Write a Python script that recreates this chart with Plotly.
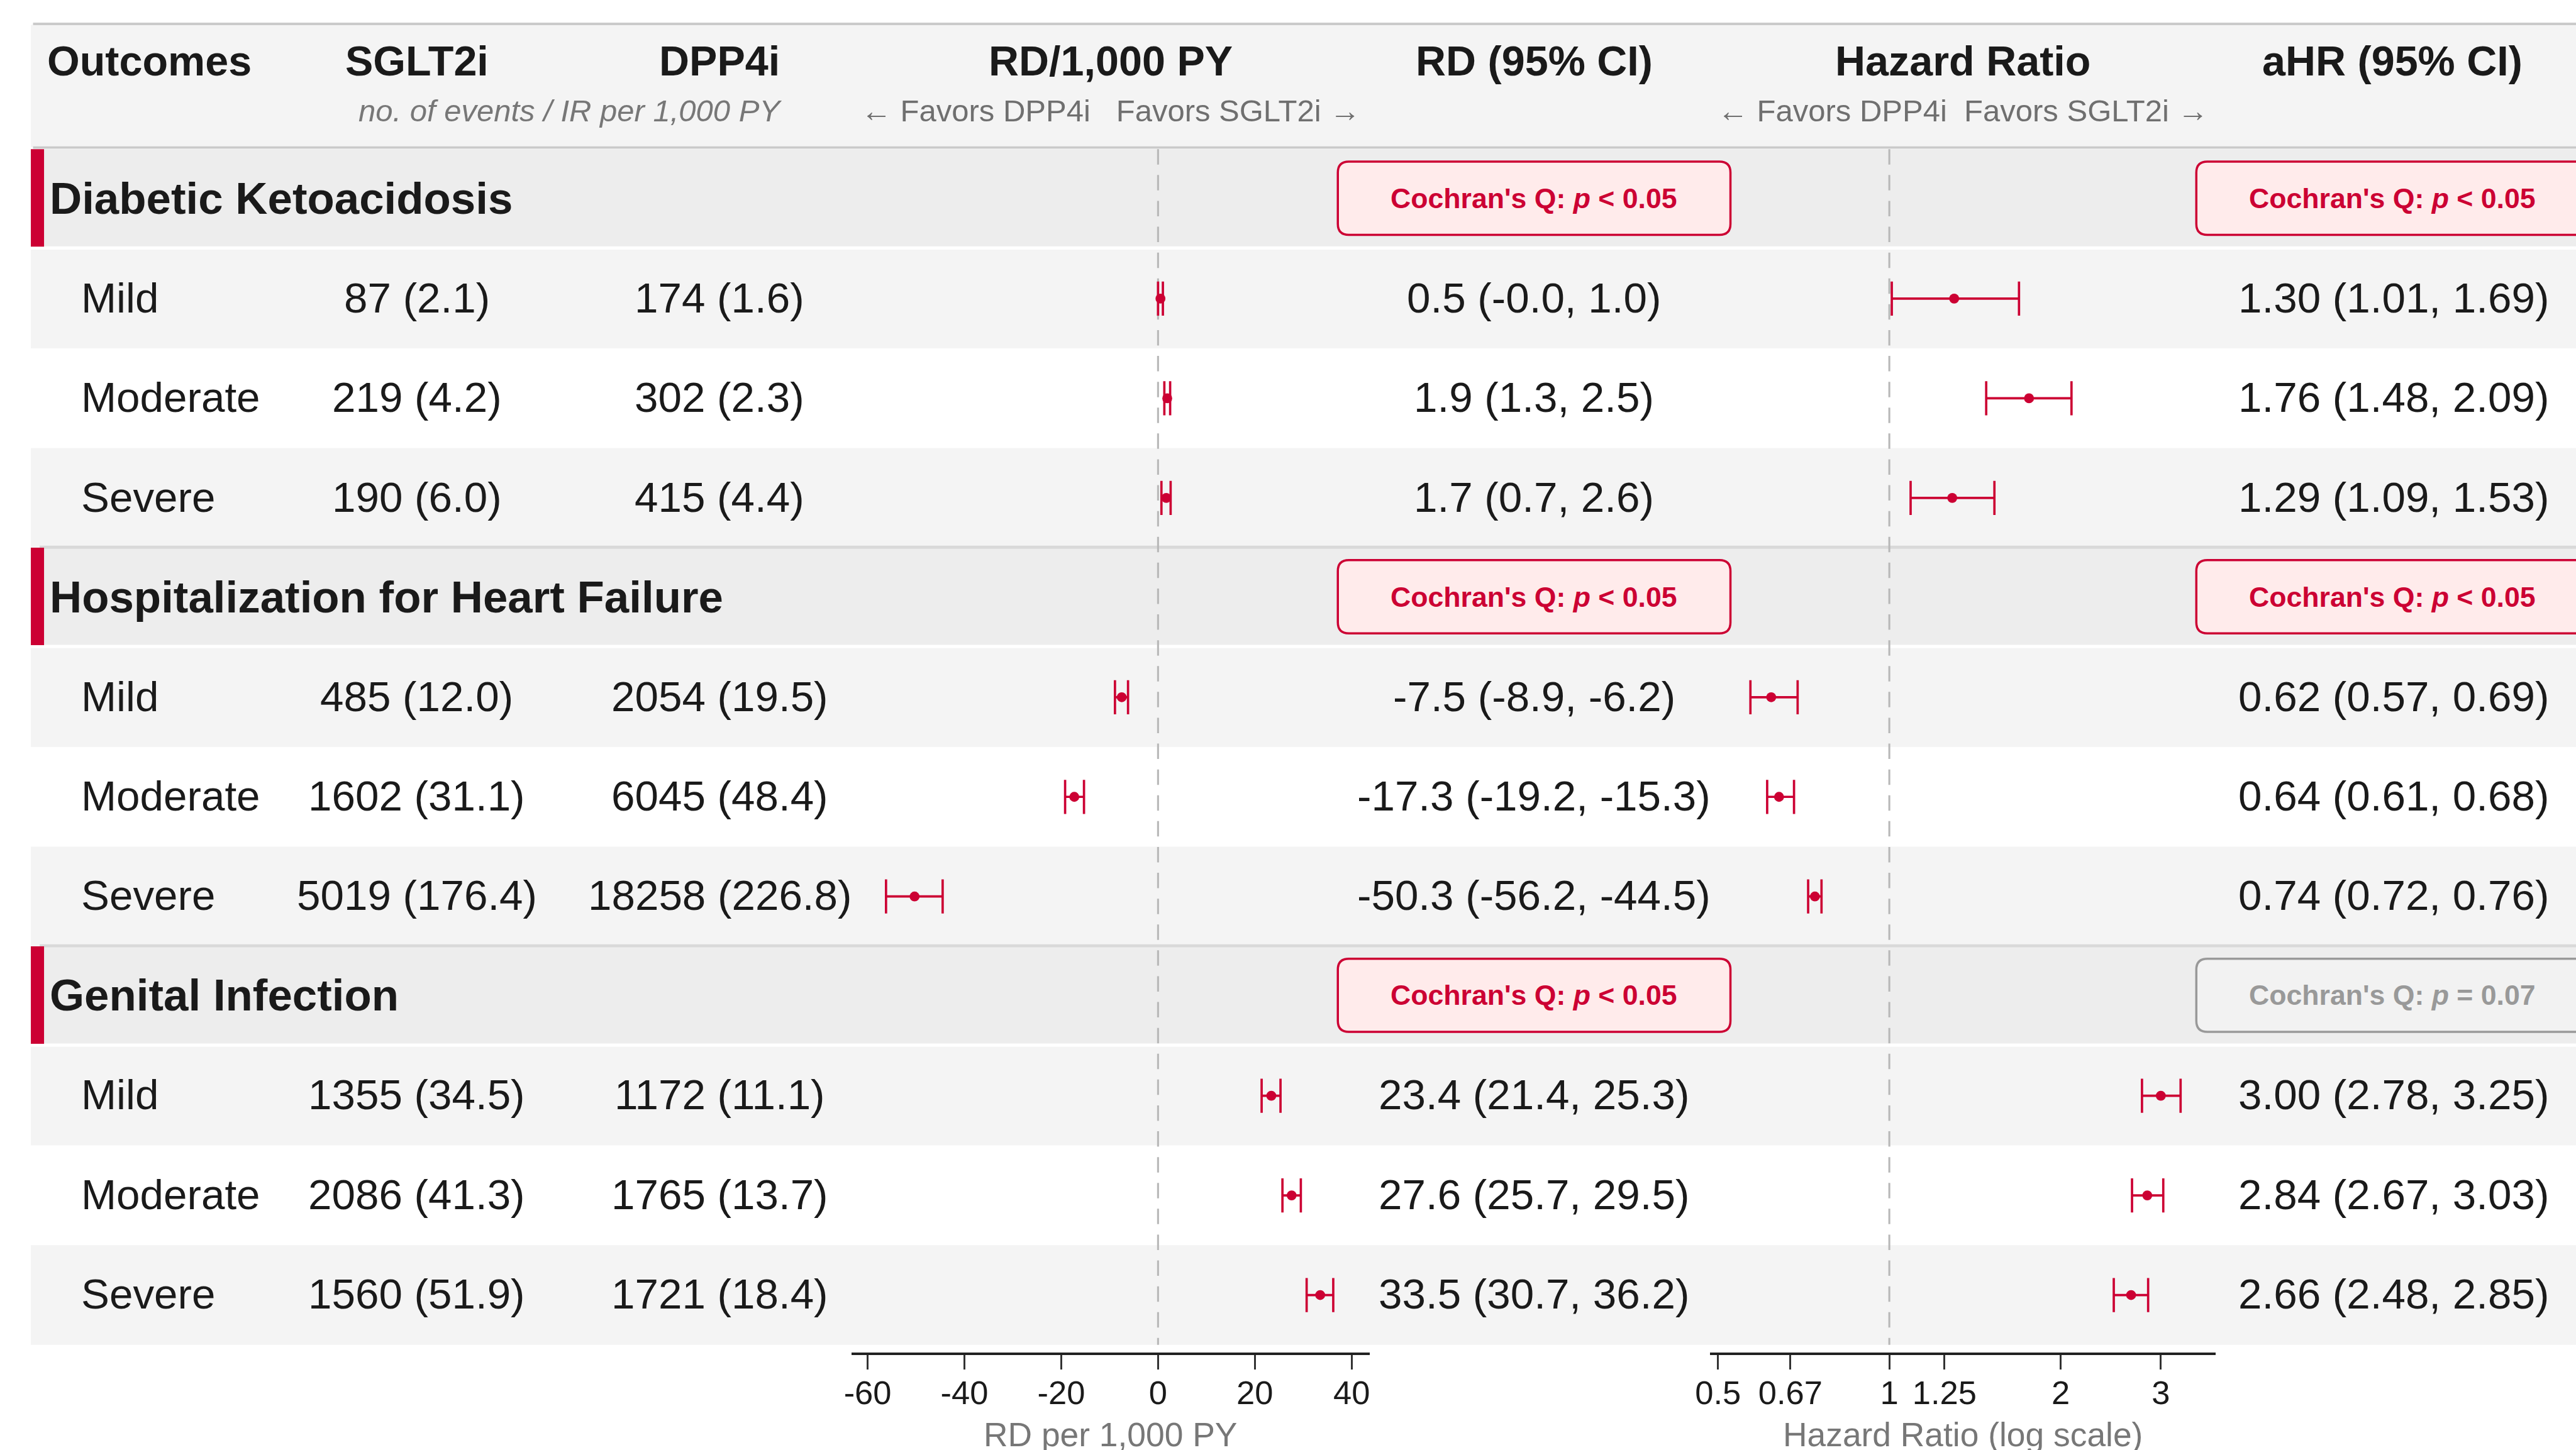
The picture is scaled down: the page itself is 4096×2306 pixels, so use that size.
import plotly.graph_objects as go

# ---------------- data ----------------
groups = ["Diabetic Ketoacidosis", "Hospitalization for Heart Failure", "Genital Infection"]
severities = ["Mild", "Moderate", "Severe"]

sglt2_events = [87, 219, 190, 485, 1602, 5019, 1355, 2086, 1560]
sglt2_ir = [2.1, 4.2, 6.0, 12.0, 31.1, 176.4, 34.5, 41.3, 51.9]
dpp4_events = [174, 302, 415, 2054, 6045, 18258, 1172, 1765, 1721]
dpp4_ir = [1.6, 2.3, 4.4, 19.5, 48.4, 226.8, 11.1, 13.7, 18.4]

rd = [0.5, 1.9, 1.7, -7.5, -17.3, -50.3, 23.4, 27.6, 33.5]
rd_lo = [-0.0, 1.3, 0.7, -8.9, -19.2, -56.2, 21.4, 25.7, 30.7]
rd_hi = [1.0, 2.5, 2.6, -6.2, -15.3, -44.5, 25.3, 29.5, 36.2]

hr = [1.30, 1.76, 1.29, 0.62, 0.64, 0.74, 3.00, 2.84, 2.66]
hr_lo = [1.01, 1.48, 1.09, 0.57, 0.61, 0.72, 2.78, 2.67, 2.48]
hr_hi = [1.69, 2.09, 1.53, 0.69, 0.68, 0.76, 3.25, 3.03, 2.85]

q_rd_text = ["&lt; 0.05", "&lt; 0.05", "&lt; 0.05"]
q_rd_sig = [True, True, True]
q_hr_text = ["&lt; 0.05", "&lt; 0.05", "= 0.07"]
q_hr_sig = [True, True, False]

rd_tickvals = [-60, -40, -20, 0, 20, 40]
rd_ticktext = ["-60", "-40", "-20", "0", "20", "40"]
hr_tickvals = [0.5, 0.67, 1, 1.25, 2, 3]
hr_ticktext = ["0.5", "0.67", "1", "1.25", "2", "3"]

col_titles = ["Outcomes", "SGLT2i", "DPP4i", "RD/1,000 PY", "RD (95% CI)", "Hazard Ratio", "aHR (95% CI)"]
sub_events = "no. of events / IR per 1,000 PY"
sub_rd = "\u2190\u00a0Favors DPP4i\u00a0\u00a0\u00a0Favors SGLT2i\u00a0\u2192"
sub_hr = "\u2190\u00a0Favors DPP4i\u00a0\u00a0Favors SGLT2i\u00a0\u2192"
rd_axis_title = "RD per 1,000 PY"
hr_axis_title = "Hazard Ratio (log scale)"

# ---------------- layout helpers (reference pixel grid) ----------------
REF_W, REF_H = 4678, 2634
S = 0.875
W, H = 4096, 2306
FONT = "Liberation Sans, Arial, Helvetica, sans-serif"
CRIMSON = "#cc0033"
DARK = "#1a1a1a"
GRAY_TXT = "#6f6f6f"

ROW_TOP = 271.0
ROW_H = 181.0


def px(x):
    return x / REF_W


def py(y):
    return 1 - y / REF_H


Y_TOP = (0 - ROW_TOP) / ROW_H - 0.5
Y_BOT = (REF_H - ROW_TOP) / ROW_H - 0.5

X_LEFT = 56
X_OUT = 4700
COL_SGLT2 = 757
COL_DPP4 = 1307
COL_RDTXT = 2786
COL_HRTXT = 4347
RD_DOM = (1546, 2487)
HR_DOM = (3105, 4024)

# rows: group header rows and subrows
row_of_group = []
row_of_item = []
r = 0
for g in range(len(groups)):
    row_of_group.append(r)
    r += 1
    for k in range(len(severities)):
        row_of_item.append(r)
        r += 1
N_ROWS = r

shapes = []
annotations = []


def ann(text, x, y, size, color=DARK, xanchor="center", yref="paper"):
    annotations.append(dict(
        text=text, x=x, y=y, xref="paper", yref=yref, xanchor=xanchor, yanchor="middle",
        showarrow=False, font=dict(family=FONT, size=size, color=color),
        borderpad=0,
    ))


def rr_path(x0, x1, y0, y1, rx, ry):
    return (f"M {x0+rx:.6f},{y0:.6f} L {x1-rx:.6f},{y0:.6f} Q {x1:.6f},{y0:.6f} {x1:.6f},{y0+ry:.6f} "
            f"L {x1:.6f},{y1-ry:.6f} Q {x1:.6f},{y1:.6f} {x1-rx:.6f},{y1:.6f} "
            f"L {x0+rx:.6f},{y1:.6f} Q {x0:.6f},{y1:.6f} {x0:.6f},{y1-ry:.6f} "
            f"L {x0:.6f},{y0+ry:.6f} Q {x0:.6f},{y0:.6f} {x0+rx:.6f},{y0:.6f} Z")


# ---------------- header ----------------
shapes.append(dict(type="rect", xref="paper", yref="paper", x0=px(X_LEFT), x1=px(X_OUT),
                   y0=py(267), y1=py(45), fillcolor="#f4f4f4", line=dict(width=0), layer="below"))
shapes.append(dict(type="line", xref="paper", yref="paper", x0=px(60), x1=px(X_OUT),
                   y0=py(43.5), y1=py(43.5), line=dict(color="#cacaca", width=4.5 * S), layer="below"))
shapes.append(dict(type="line", xref="paper", yref="paper", x0=px(60), x1=px(X_OUT),
                   y0=py(268), y1=py(268), line=dict(color="#cacaca", width=4.5 * S), layer="below"))

HDR_Y = py(110.5)
HDR_FS = 76 * S
ann("<b>" + col_titles[0] + "</b>", px(84), HDR_Y, HDR_FS, xanchor="left")
ann("<b>" + col_titles[1] + "</b>", px(COL_SGLT2), HDR_Y, HDR_FS)
ann("<b>" + col_titles[2] + "</b>", px(COL_DPP4), HDR_Y, HDR_FS)
ann("<b>" + col_titles[3] + "</b>", px(sum(RD_DOM) / 2), HDR_Y, HDR_FS)
ann("<b>" + col_titles[4] + "</b>", px(COL_RDTXT), HDR_Y, HDR_FS)
ann("<b>" + col_titles[5] + "</b>", px(sum(HR_DOM) / 2), HDR_Y, HDR_FS)
ann("<b>" + col_titles[6] + "</b>", px(4345), HDR_Y, HDR_FS)

SUB_Y = py(201)
SUB_FS = 56 * S
ann("<i>" + sub_events + "</i>", px(1035), SUB_Y, SUB_FS, color="#777777")
ann(sub_rd, px(sum(RD_DOM) / 2), SUB_Y, SUB_FS, color=GRAY_TXT)
ann(sub_hr, px(sum(HR_DOM) / 2), SUB_Y, SUB_FS, color=GRAY_TXT)

# ---------------- table rows ----------------
alt_fill = ["#f4f4f4", "#ffffff", "#f4f4f4"]
for g, gr in enumerate(row_of_group):
    shapes.append(dict(type="rect", xref="paper", yref="y", x0=px(X_LEFT), x1=px(X_OUT),
                       y0=gr - 0.5, y1=gr + 0.5, fillcolor="#ededed", line=dict(width=0), layer="below"))
    for k in range(len(severities)):
        rr = gr + 1 + k
        shapes.append(dict(type="rect", xref="paper", yref="y", x0=px(X_LEFT), x1=px(X_OUT),
                           y0=rr - 0.5, y1=rr + 0.5, fillcolor=alt_fill[k], line=dict(width=0), layer="below"))
    # white gap under the group header
    shapes.append(dict(type="line", xref="paper", yref="y", x0=px(X_LEFT), x1=px(X_OUT),
                       y0=gr + 0.5 - 1.5 / ROW_H, y1=gr + 0.5 - 1.5 / ROW_H,
                       line=dict(color="#ffffff", width=6 * S), layer="below"))
    # separator above group header
    if g > 0:
        shapes.append(dict(type="line", xref="paper", yref="y", x0=px(72), x1=px(X_OUT),
                           y0=gr - 0.5 - 1 / ROW_H, y1=gr - 0.5 - 1 / ROW_H,
                           line=dict(color="#d9d9d9", width=5.5 * S), layer="below"))
    # red accent bar
    shapes.append(dict(type="rect", xref="paper", yref="y", x0=px(X_LEFT), x1=px(80),
                       y0=gr - 0.5, y1=gr + 0.5 - 4 / ROW_H, fillcolor=CRIMSON, line=dict(width=0),
                       layer="below"))
    ann("<b>" + groups[g] + "</b>", px(89), gr - 1.5 / ROW_H, 81 * S, xanchor="left", yref="y")

# Cochran's Q boxes
BOX_HW = 356.5
BOX_HH = 66.5
RAD = 20


def cochran_box(cx, row, ptxt, sig):
    x0, x1 = px(cx - BOX_HW), px(cx + BOX_HW)
    y0 = row - 1.5 / ROW_H - BOX_HH / ROW_H
    y1 = row - 1.5 / ROW_H + BOX_HH / ROW_H
    fill = "#ffebeb" if sig else "#f2f2f2"
    edge = CRIMSON if sig else "#999999"
    shapes.append(dict(type="path", xref="paper", yref="y",
                       path=rr_path(x0, x1, y0, y1, RAD / REF_W, RAD / ROW_H),
                       fillcolor=fill, line=dict(color=edge, width=4 * S), layer="below"))
    ann("<b>Cochran's Q: <i>p</i> " + ptxt + "</b>", px(cx), row - 1.5 / ROW_H, 51 * S,
        color=edge, yref="y")


for g, gr in enumerate(row_of_group):
    cochran_box(COL_RDTXT, gr, q_rd_text[g], q_rd_sig[g])
    cochran_box(4345, gr, q_hr_text[g], q_hr_sig[g])

DATA_FS = 77 * S
for i, rr in enumerate(row_of_item):
    yy = rr - 2 / ROW_H
    ann(severities[i % 3], px(146), yy, DATA_FS, xanchor="left", yref="y")
    ann(f"{sglt2_events[i]} ({sglt2_ir[i]:.1f})", px(COL_SGLT2), yy, DATA_FS, yref="y")
    ann(f"{dpp4_events[i]} ({dpp4_ir[i]:.1f})", px(COL_DPP4), yy, DATA_FS, yref="y")
    ann(f"{rd[i]:.1f} ({rd_lo[i]:.1f}, {rd_hi[i]:.1f})", px(COL_RDTXT), yy, DATA_FS, yref="y")
    ann(f"{hr[i]:.2f} ({hr_lo[i]:.2f}, {hr_hi[i]:.2f})", px(COL_HRTXT), yy, DATA_FS, yref="y")

# axis titles
ann(rd_axis_title, px(sum(RD_DOM) / 2), py(2605.5), 61 * S, color="#777777")
ann(hr_axis_title, px(sum(HR_DOM) / 2), py(2605.5), 61 * S, color="#777777")

# ---------------- traces ----------------
fig = go.Figure()
ref_y = [-0.5, N_ROWS - 0.5]
dash = f"{28 * S:.1f}px,{19 * S:.1f}px"
fig.add_trace(go.Scatter(x=[0, 0], y=ref_y, mode="lines", xaxis="x", yaxis="y",
                         line=dict(color="#b8b8b8", width=3.5 * S, dash=dash),
                         hoverinfo="skip", showlegend=False))
fig.add_trace(go.Scatter(x=[1, 1], y=ref_y, mode="lines", xaxis="x2", yaxis="y",
                         line=dict(color="#b8b8b8", width=3.5 * S, dash=dash),
                         hoverinfo="skip", showlegend=False))

err_style = dict(type="data", symmetric=False, color=CRIMSON, thickness=4.2 * S, width=31 * S)
fig.add_trace(go.Scatter(
    x=rd, y=row_of_item, mode="markers", xaxis="x", yaxis="y",
    marker=dict(size=18 * S, color=CRIMSON, line=dict(width=0)),
    error_x=dict(array=[h - v for h, v in zip(rd_hi, rd)],
                 arrayminus=[v - l for v, l in zip(rd, rd_lo)], **err_style),
    showlegend=False, cliponaxis=False))
fig.add_trace(go.Scatter(
    x=hr, y=row_of_item, mode="markers", xaxis="x2", yaxis="y",
    marker=dict(size=18 * S, color=CRIMSON, line=dict(width=0)),
    error_x=dict(array=[h - v for h, v in zip(hr_hi, hr)],
                 arrayminus=[v - l for v, l in zip(hr, hr_lo)], **err_style),
    showlegend=False, cliponaxis=False))

# ---------------- axes ----------------
rd_px_per_unit = (2454.6 - 2103.0) / 40.0
rd_range = [(RD_DOM[0] - 2103.0) / rd_px_per_unit, (RD_DOM[1] - 2103.0) / rd_px_per_unit]
hr_px_per_dec = (3924.0 - 3431.0) / 0.4771
hr_range = [(HR_DOM[0] - 3431.0) / hr_px_per_dec, (HR_DOM[1] - 3431.0) / hr_px_per_dec]

AXIS_POS = 1 - 2459 / REF_H
axis_common = dict(
    anchor="free", position=AXIS_POS, showline=True, linecolor="#222222", linewidth=5 * S,
    ticks="outside", ticklen=26 * S, tickwidth=3 * S, tickcolor="#333333",
    tickfont=dict(family=FONT, size=60 * S, color=DARK),
    showgrid=False, zeroline=False, fixedrange=True, ticklabelstandoff=-8,
    automargin=False,
)

fig.update_layout(
    template="none",
    width=W, height=H, autosize=False,
    margin=dict(l=0, r=0, t=0, b=0, pad=0, autoexpand=False),
    paper_bgcolor="#ffffff", plot_bgcolor="rgba(0,0,0,0)",
    font=dict(family=FONT, color=DARK),
    xaxis=dict(domain=[px(RD_DOM[0]), px(RD_DOM[1])], range=rd_range, tickvals=rd_tickvals,
               ticktext=rd_ticktext, **axis_common),
    xaxis2=dict(domain=[px(HR_DOM[0]), px(HR_DOM[1])], type="log", range=hr_range,
                tickvals=hr_tickvals, ticktext=hr_ticktext, **axis_common),
    yaxis=dict(domain=[0, 1], range=[Y_BOT, Y_TOP], visible=False, fixedrange=True,
               automargin=False),
    shapes=shapes,
    annotations=annotations,
    showlegend=False,
)

fig.write_html("out.html", config={"displayModeBar": False},
               post_script="document.body.style.margin='0px';")
